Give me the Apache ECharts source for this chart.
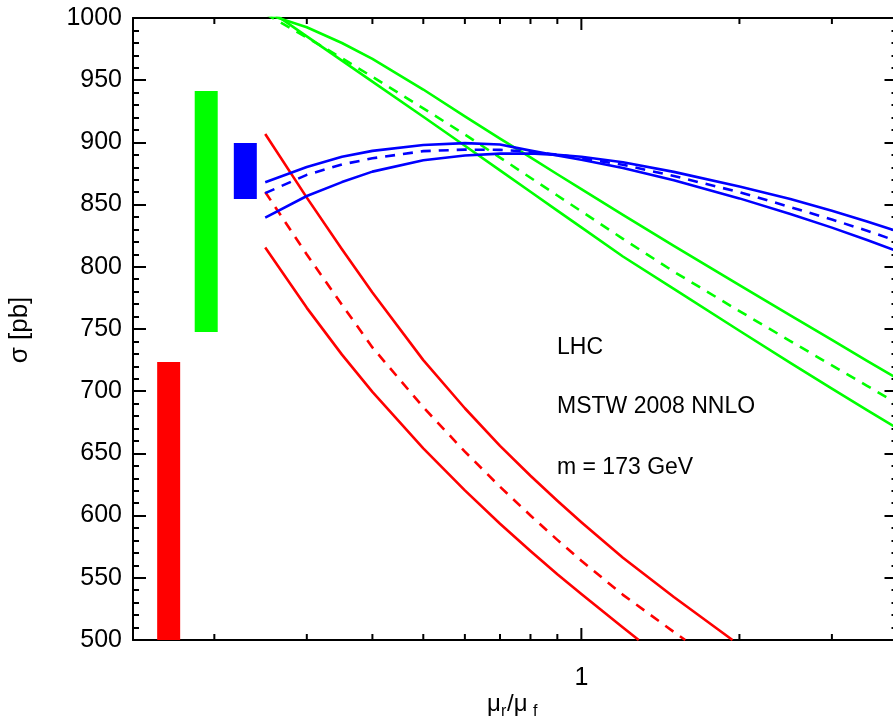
<!DOCTYPE html>
<html><head><meta charset="utf-8">
<script src="https://cdn.jsdelivr.net/npm/echarts@6/dist/echarts.min.js"></script>
<style>html,body{margin:0;padding:0;background:#fff;}#c{width:893px;height:722px;}</style>
</head><body><div id="c"></div>
<script>
// ---- data ----
const muRatio = [0.25,0.3,0.35,0.4,0.5,0.6,0.7,0.8,0.9,1,1.2,1.5,2,2.5,3,3.5,4];

const redUpperX = [0.25,0.3,0.35,0.4,0.5,0.6,0.7,0.8,0.9,1,1.2,1.5,1.94];
const redUpper  = [906.8,855.6,814.1,779.3,725,686.3,656.1,632,611.9,594.7,566.1,534.6,500];
const redMidX   = [0.25,0.3,0.35,0.4,0.5,0.6,0.7,0.8,0.9,1,1.2,1.5,1.577];
const redMid    = [860.1,809.9,769.5,735.2,687.1,651.4,623.2,600.1,580.5,563.7,536.3,506.5,500];
const redLowerX = [0.25,0.3,0.35,0.4,0.5,0.6,0.7,0.8,0.9,1,1.2,1.286];
const redLower  = [815.6,767,729.4,699.4,654.1,620.3,593.5,571.5,552.9,537,510,500];

const greenUpper = [1003.5,992.6,979.9,967.1,942.5,920.9,903.1,887.9,874.4,862.5,841.7,816.9,785.2,760.9,741.2,724.4,710];
const greenMid   = [1003.4,984.4,967.7,952.7,927.3,906.4,887.8,871.6,857.3,844.6,822.5,796.1,764.4,740.3,720.7,704.3,690.1];
const greenLower = [1008.4,985.2,965.7,948.8,920.6,897.3,877.5,860.3,845.2,831.7,808.3,782.3,748.6,722.7,702,684.7,670];

const blueA   = [868,880.2,888.5,893.2,897.9,899.4,898.3,893.4,889.5,886,879.5,869.5,855,842.5,831.5,821.5,812.5];
const blueMid = [859.2,873.9,882.3,887.2,893,894.2,894,892.5,890.2,887.3,882,873,860,848,838,829,820.5];
const blueB   = [839.6,856.9,868.1,876.5,885.6,889.5,891,891.1,890,888.5,884,876.3,864.5,854.5,845,836.5,828.5];

// error bands: [x, low, high]
const bandRed   = [0.1637, 500, 723.5];
const bandGreen = [0.193, 747.6, 941.3];
const bandBlue  = [0.2291, 854.5, 899.5];

const xMin = 0.14, xMax = 4;
const yMin = 500, yMax = 1000, yStep = 50;
const xTickValues = [0.2,0.3,0.4,0.5,0.6,0.7,0.8,0.9,1,2,3];
const xMajorTicks = [1];
const xLabelValues = [1];

const notes = ['LHC', 'MSTW 2008 NNLO', 'm = 173 GeV'];

// ---- chart ----
const RED = '#ff0000', GREEN = '#00ff00', BLUE = '#0000ff';
const FONT = '"Liberation Sans", Arial, sans-serif';
const zip = (xs, ys) => xs.map((x, i) => [x, ys[i]]);

function lineSeries(xs, ys, color, dashed) {
  return {
    type: 'line', data: zip(xs, ys), showSymbol: false, symbol: 'none',
    smooth: false, clip: true, silent: true, z: 3,
    lineStyle: { color: color, width: 2.6, type: dashed ? [10, 8] : 'solid', cap: 'butt', join: 'round' }
  };
}

const chart = echarts.init(document.getElementById('c'));
const axisLine = { show: true, lineStyle: { color: '#000', width: 2 } };
chart.setOption({
  animation: false,
  backgroundColor: '#fff',
  grid: { left: 133, top: 18, width: 764.5, height: 622, containLabel: false, outerBoundsMode: 'none' },
  xAxis: [
    { type: 'log', logBase: 10, min: xMin, max: xMax, position: 'bottom',
      axisLine: axisLine, axisTick: { show: false }, splitLine: { show: false }, minorTick: { show: false },
      axisLabel: { show: true, margin: 26, fontSize: 25, color: '#000', fontFamily: FONT,
        showMinLabel: false, showMaxLabel: false,
        formatter: v => (xLabelValues.some(t => Math.abs(t - v) < 1e-9) ? String(v) : '') } },
    { type: 'log', logBase: 10, min: xMin, max: xMax, position: 'top',
      axisLine: axisLine, axisTick: { show: false }, splitLine: { show: false }, axisLabel: { show: false } }
  ],
  yAxis: [
    { type: 'value', min: yMin, max: yMax, interval: yStep, position: 'left',
      axisLine: axisLine, splitLine: { show: false },
      axisTick: { show: true, inside: true, length: 13, lineStyle: { color: '#000', width: 2 } },
      minorTick: { show: true, splitNumber: 5, length: 6, lineStyle: { color: '#000', width: 2 } },
      axisLabel: { margin: 11, fontSize: 25, color: '#000', fontFamily: FONT, formatter: v => String(v) } },
    { type: 'value', min: yMin, max: yMax, interval: yStep, position: 'right',
      axisLine: axisLine, splitLine: { show: false },
      axisTick: { show: true, inside: true, length: 13, lineStyle: { color: '#000', width: 2 } },
      minorTick: { show: true, splitNumber: 5, length: 6, lineStyle: { color: '#000', width: 2 } },
      axisLabel: { show: false } }
  ],
  series: [
    { type: 'custom', silent: true, z: 5, clip: false,
      data: xTickValues.map(v => [v, yMin]),
      encode: { x: 0, y: 1 },
      renderItem: function (params, api) {
        const v = api.value(0);
        const len = xMajorTicks.indexOf(v) >= 0 ? 12 : 6;
        const b = api.coord([v, yMin]);
        const t = api.coord([v, yMax]);
        const st = { stroke: '#000', lineWidth: 2 };
        return { type: 'group', children: [
          { type: 'line', shape: { x1: b[0], y1: b[1], x2: b[0], y2: b[1] - len }, style: st },
          { type: 'line', shape: { x1: t[0], y1: t[1], x2: t[0], y2: t[1] + len }, style: st }
        ] };
      } },
    { type: 'custom', silent: true, z: 2,
      data: [bandRed.concat([0]), bandGreen.concat([1]), bandBlue.concat([2])],
      encode: { x: 0, y: [1, 2] },
      renderItem: function (params, api) {
        const x = api.value(0);
        const top = api.coord([x, api.value(2)]);
        const bot = api.coord([x, api.value(1)]);
        const colors = [RED, GREEN, BLUE];
        const w = 23;
        const rect = echarts.graphic.clipRectByRect(
          { x: top[0] - w / 2, y: top[1], width: w, height: bot[1] - top[1] },
          { x: params.coordSys.x, y: params.coordSys.y, width: params.coordSys.width, height: params.coordSys.height });
        return rect && { type: 'rect', shape: rect, style: { fill: colors[api.value(3)] } };
      } },
    lineSeries(redUpperX, redUpper, RED, false),
    lineSeries(redMidX, redMid, RED, true),
    lineSeries(redLowerX, redLower, RED, false),
    lineSeries(muRatio, greenUpper, GREEN, false),
    lineSeries(muRatio, greenMid, GREEN, true),
    lineSeries(muRatio, greenLower, GREEN, false),
    lineSeries(muRatio, blueA, BLUE, false),
    lineSeries(muRatio, blueMid, BLUE, true),
    lineSeries(muRatio, blueB, BLUE, false)
  ],
  graphic: [
    { type: 'text', left: 557, top: 336, style: { text: notes[0], font: '23px ' + FONT, fill: '#000' } },
    { type: 'text', left: 557, top: 395, style: { text: notes[1], font: '23px ' + FONT, fill: '#000' } },
    { type: 'text', left: 557, top: 456, style: { text: notes[2], font: '23px ' + FONT, fill: '#000' } },
    { type: 'text', x: 20, y: 330, rotation: Math.PI / 2,
      style: { text: 'σ [pb]', font: '26px ' + FONT, fill: '#000', align: 'center', verticalAlign: 'middle' } },
    { type: 'text', x: 487, y: 692, style: { text: 'μ', font: '24px ' + FONT, fill: '#000' } },
    { type: 'text', x: 501, y: 704, style: { text: 'r', font: '16px ' + FONT, fill: '#000' } },
    { type: 'text', x: 507, y: 692, style: { text: '/μ', font: '24px ' + FONT, fill: '#000' } },
    { type: 'text', x: 533, y: 704, style: { text: 'f', font: '16px ' + FONT, fill: '#000' } }
  ]
});
</script></body></html>
